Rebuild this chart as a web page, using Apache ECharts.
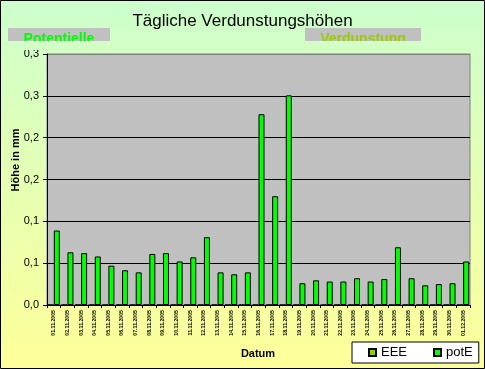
<!DOCTYPE html>
<html>
<head>
<meta charset="utf-8">
<script src="https://cdn.jsdelivr.net/npm/echarts@6/dist/echarts.min.js"></script>
<style>html,body{margin:0;padding:0;}#c{width:485px;height:369px;}</style>
</head>
<body>
<div id="c"></div>
<script>
const categories = ['01.11.2005','02.11.2005','03.11.2005','04.11.2005','05.11.2005','06.11.2005','07.11.2005','08.11.2005','09.11.2005','10.11.2005','11.11.2005','12.11.2005','13.11.2005','14.11.2005','15.11.2005','16.11.2005','17.11.2005','18.11.2005','19.11.2005','20.11.2005','21.11.2005','22.11.2005','23.11.2005','24.11.2005','25.11.2005','26.11.2005','27.11.2005','28.11.2005','29.11.2005','30.11.2005','01.12.2005'];
const eeeValues = [0,0,0,0,0,0,0,0,0,0,0,0,0,0,0,0,0,0,0,0,0,0,0,0,0,0,0,0,0,0,0];
const potEValues = [0.089,0.063,0.062,0.058,0.047,0.0415,0.039,0.061,0.062,0.052,0.057,0.081,0.039,0.0367,0.039,0.228,0.130,0.2506,0.026,0.0295,0.028,0.028,0.032,0.028,0.031,0.069,0.032,0.0235,0.025,0.026,0.052];
const yTickLabels = ['0,0','0,1','0,1','0,2','0,2','0,3','0,3'];
const titleText = 'Tägliche Verdunstungshöhen';
const subLeft = 'Potentielle';
const subRight = 'Verdunstung';
const yName = 'Höhe in mm';
const xName = 'Datum';

const FONT = '"Liberation Sans", Arial, sans-serif';
const bgGrad = {type:'linear', x:0, y:0, x2:0, y2:369, global:true,
  colorStops:[{offset:0,color:'#ccffcc'},{offset:1,color:'#ffff99'}]};

const chart = echarts.init(document.getElementById('c'));
chart.setOption({
  animation: false,
  backgroundColor: {type:'linear', x:0, y:0, x2:0, y2:1,
    colorStops:[{offset:0,color:'#ccffcc'},{offset:1,color:'#ffff99'}]},
  textStyle: {fontFamily: FONT},
  title: {text: titleText, left: 'center', top: 8,
    textStyle: {fontSize: 17, fontWeight: 'normal', color: '#000', fontFamily: FONT}},
  grid: {left: 47, right: 15, top: 54, bottom: 64, show: true,
    backgroundColor: '#c0c0c0', borderColor: '#808080', borderWidth: 1},
  legend: {data: ['EEE','potE'], left: 352, top: 342, itemWidth: 7, itemHeight: 7,
    icon: 'rect', itemGap: 26, backgroundColor: '#fff', borderColor: '#000', borderWidth: 1,
    padding: [4, 6, 4, 16],
    textStyle: {fontSize: 13, color: '#000', fontFamily: FONT}},
  xAxis: {type: 'category', data: categories,
    axisLine: {lineStyle: {color: '#000', width: 1}},
    axisTick: {show: true, length: 3, lineStyle: {color: '#000'}},
    axisLabel: {rotate: 90, interval: 0, fontSize: 5.2, fontWeight: 'bold', color: '#000', margin: 5}},
  yAxis: {type: 'value', min: 0, max: 0.3, interval: 0.05,
    axisLine: {show: true, lineStyle: {color: '#000', width: 1}},
    axisTick: {show: true, length: 4, lineStyle: {color: '#000'}},
    axisLabel: {fontSize: 11, color: '#000', margin: 8,
      formatter: (v, i) => yTickLabels[i]},
    splitLine: {show: true, lineStyle: {color: ['#000','#000','#000','#000','#000','#000','#808080'], width: 1}}},
  series: [
    {name: 'EEE', type: 'bar', data: eeeValues, barWidth: 6, barGap: '0%',
      itemStyle: {color: '#99cc00', borderColor: '#000', borderWidth: 1}},
    {name: 'potE', type: 'bar', data: potEValues, barWidth: 6, barGap: '0%',
      itemStyle: {color: '#00ff00', borderColor: '#000', borderWidth: 1}}
  ],
  graphic: [
    {type: 'rect', shape: {x: 8, y: 28, width: 102, height: 13}, style: {fill: '#c0c0c0'}, z: 10},
    {type: 'rect', shape: {x: 305, y: 28, width: 116, height: 13}, style: {fill: '#c0c0c0'}, z: 10},
    {type: 'text', x: 59, y: 32, z: 11, style: {text: subLeft, fill: '#00ff00', font: 'bold 14px ' + FONT, textAlign: 'center', textVerticalAlign: 'top'}},
    {type: 'text', x: 363, y: 32, z: 11, style: {text: subRight, fill: '#99cc00', font: 'bold 14px ' + FONT, textAlign: 'center', textVerticalAlign: 'top'}},
    {type: 'rect', shape: {x: 1, y: 41, width: 483, height: 9}, style: {fill: bgGrad}, z: 12},
    {type: 'text', x: 16, y: 160, rotation: Math.PI / 2, z: 11,
      style: {text: yName, fill: '#000', font: 'bold 11px ' + FONT, textAlign: 'center', textVerticalAlign: 'middle'}},
    {type: 'text', x: 258, y: 354, z: 11,
      style: {text: xName, fill: '#000', font: 'bold 11px ' + FONT, textAlign: 'center', textVerticalAlign: 'middle'}},
    {type: 'rect', shape: {x: 0.5, y: 0.5, width: 484, height: 368}, style: {fill: 'none', stroke: '#000', lineWidth: 1}, z: 20}
  ]
});
</script>
</body>
</html>
